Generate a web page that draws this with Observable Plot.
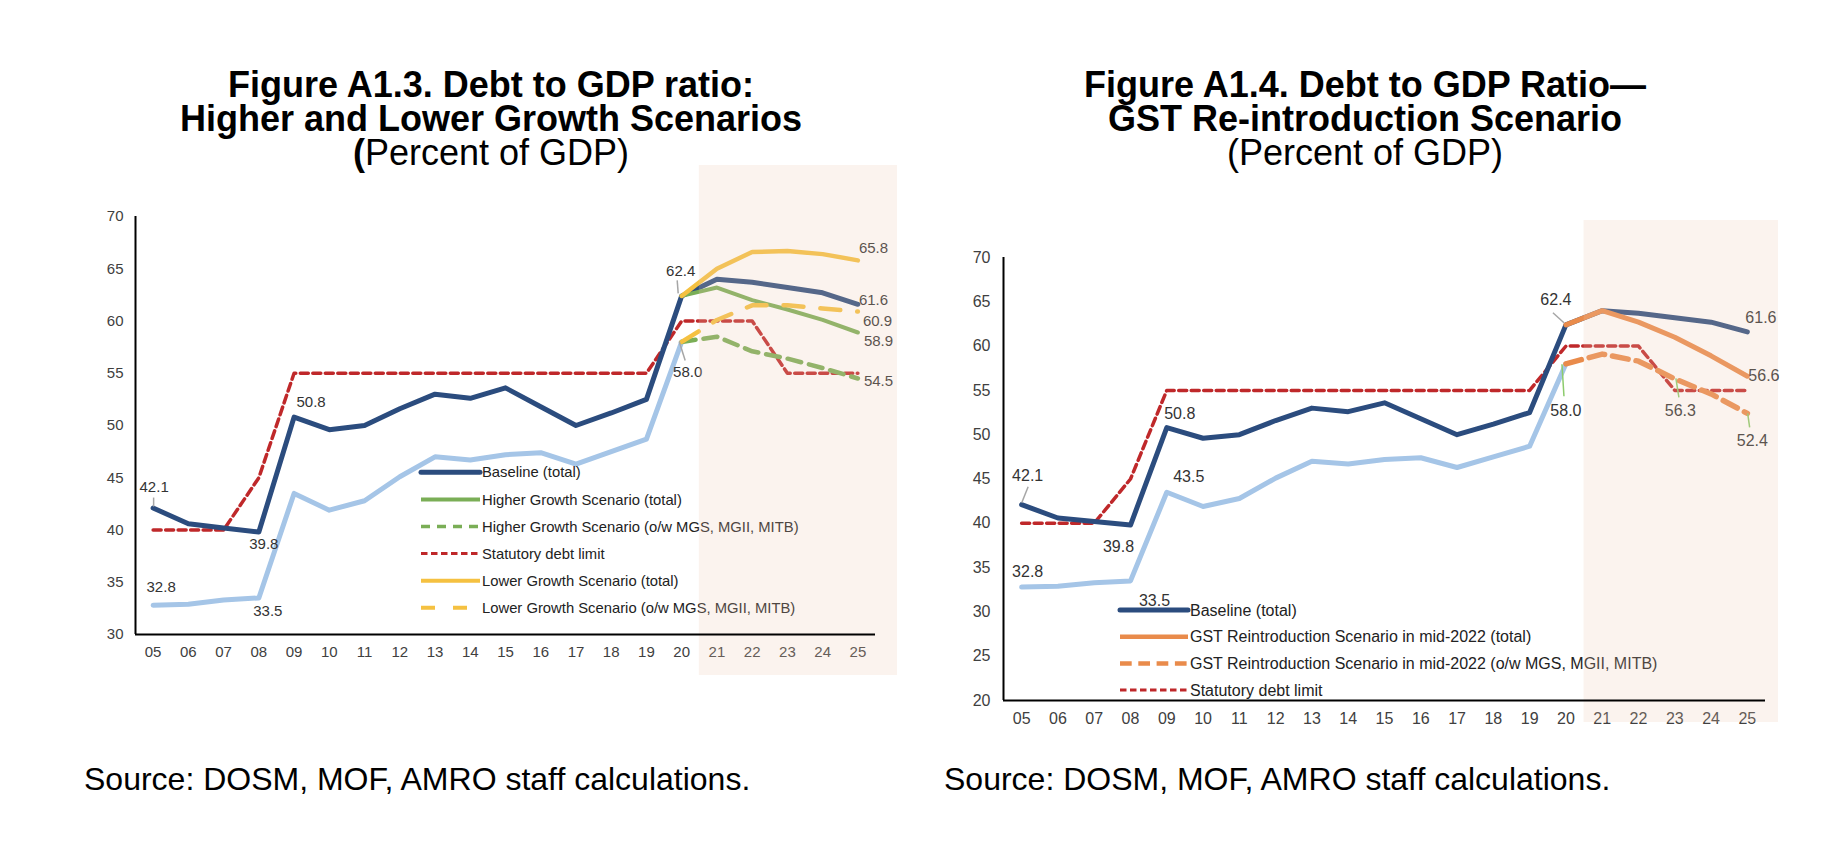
<!DOCTYPE html>
<html>
<head>
<meta charset="utf-8">
<script src="https://cdn.jsdelivr.net/npm/d3@7"></script>
<script src="https://cdn.jsdelivr.net/npm/@observablehq/plot@0.6"></script>
<style>
  body { margin: 0; background: #fff; }
  #page { position: relative; width: 1842px; height: 852px; overflow: hidden;
          font-family: "Liberation Sans", Arial, sans-serif; color: #000; }
  .title { position: absolute; width: 900px; text-align: center; font-size: 36px; line-height: 34px; }
  .title b { font-weight: bold; }
  .source { position: absolute; font-size: 32px; line-height: 36px; white-space: nowrap; }
  .chart { position: absolute; }
</style>
</head>
<body>
<div id="page">
  <div class="title" style="left:41px; top:68px;"><b>Figure A1.3. Debt to GDP ratio:<br>Higher and Lower Growth Scenarios<br>(</b>Percent of GDP)</div>
  <div class="title" style="left:915px; top:68px;"><b>Figure A1.4. Debt to GDP Ratio—<br>GST Re-introduction Scenario</b><br>(Percent of GDP)</div>
  <div id="left" class="chart" style="left:60px; top:150px;"></div>
  <div id="right" class="chart" style="left:940px; top:200px;"></div>
  <div class="source" style="left:84px; top:761px;">Source: DOSM, MOF, AMRO staff calculations.</div>
  <div class="source" style="left:944px; top:761px;">Source: DOSM, MOF, AMRO staff calculations.</div>
</div>
<script>
// ---- Data (percent of GDP) ----
const years = [2005, 2006, 2007, 2008, 2009, 2010, 2011, 2012, 2013, 2014, 2015,
               2016, 2017, 2018, 2019, 2020, 2021, 2022, 2023, 2024, 2025];
const yearLabels = ["05", "06", "07", "08", "09", "10", "11", "12", "13", "14", "15",
                    "16", "17", "18", "19", "20", "21", "22", "23", "24", "25"];
const projectionYears = [2021, 2022, 2023, 2024, 2025];

// Baseline total debt, 2005–2025
const baselineTotal = [42.1, 40.6, 40.2, 39.8, 50.8, 49.6, 50.0, 51.6, 53.0, 52.6, 53.6,
                       51.8, 50.0, 51.2, 52.5, 62.4, 64.0, 63.7, 63.2, 62.7, 61.6];
// Of which MGS, MGII, MITB (historical), 2005–2020
const owYears = [2005, 2006, 2007, 2008, 2009, 2010, 2011, 2012,
                 2013, 2014, 2015, 2016, 2017, 2018, 2019, 2020];
const baselineOw = [32.8, 32.9, 33.3, 33.5, 43.5, 41.9, 42.8, 45.1,
                    47.0, 46.7, 47.2, 47.4, 46.3, 47.5, 48.7, 58.0];
// Statutory debt limit
const debtLimit = [40, 40, 40, 45, 55, 55, 55, 55, 55, 55, 55,
                   55, 55, 55, 55, 60, 60, 60, 55, 55, 55];

// Scenarios, 2020–2025
const scenarioYears = [2020, 2021, 2022, 2023, 2024, 2025];
const higherTotal = [62.4, 63.2, 62.0, 61.1, 60.1, 58.9];
const higherOw    = [58.0, 58.5, 57.1, 56.4, 55.5, 54.5];
const lowerTotal  = [62.4, 65.0, 66.6, 66.7, 66.4, 65.8];
const lowerOw     = [58.0, 60.1, 61.5, 61.5, 61.2, 60.9];
const gstTotal    = [62.4, 64.0, 62.7, 61.0, 58.9, 56.6];
const gstOw       = [58.0, 59.1, 58.3, 56.3, 54.6, 52.4];

const leftTicks = [30, 35, 40, 45, 50, 55, 60, 65, 70];
const rightTicks = [20, 25, 30, 35, 40, 45, 50, 55, 60, 65, 70];

// ---- Styling ----
const C = {
  navy: "#2B4C7E", lightBlue: "#A5C5E7", green: "#7AAE56", red: "#BF282A",
  yellow: "#F5C141", orange: "#E98B4B", text: "#333333", tick: "#404040",
  leaderGray: "#A6A6A6", leaderGreen: "#8CCB6C",
  shade: "rgb(235,200,178)"
};

const yearFormat = d => yearLabels[years.indexOf(d)];
const valueAt = (xs, ys, x) => ys[xs.indexOf(x)];

function line(xs, ys, opts) {
  return Plot.line(ys, {x: xs, y: ys, strokeLinejoin: "round", ...opts});
}

function valueLabels(specs, fontSize) {
  return specs.map(s => {
    const v = valueAt(s.xs, s.ys, s.x);
    return Plot.text([{x: s.x, v}], {
      x: "x", y: "v", text: d => d.v.toFixed(1),
      dx: s.dx, dy: s.dy, textAnchor: s.anchor || "middle",
      fill: C.text, fontSize
    });
  });
}

// Short leader strokes from a point to its label (offsets in pixels)
function leaders(specs) {
  return (index, scales) => {
    const g = d3.create("svg:g");
    for (const s of specs) {
      const px = scales.x(s.x), py = scales.y(valueAt(s.xs, s.ys, s.x));
      g.append("line")
        .attr("x1", px + s.from[0]).attr("y1", py + s.from[1])
        .attr("x2", px + s.to[0]).attr("y2", py + s.to[1])
        .attr("stroke", s.color).attr("stroke-width", 1.5);
    }
    return g.node();
  };
}

function legend(items, {x, y, step, sampleW, gap, fontSize}) {
  return () => {
    const g = d3.create("svg:g").attr("text-anchor", "start");
    items.forEach((it, i) => {
      const yy = y + i * step;
      g.append("line")
        .attr("x1", x).attr("x2", x + sampleW).attr("y1", yy).attr("y2", yy)
        .attr("stroke", it.color).attr("stroke-width", it.width)
        .attr("stroke-dasharray", it.dash || null)
        .attr("stroke-linecap", it.cap || "butt");
      g.append("text")
        .attr("x", x + sampleW + gap).attr("y", yy).attr("dy", "0.35em")
        .attr("text-anchor", "start")
        .attr("font-size", fontSize).attr("fill", "#222").text(it.label);
    });
    return g.node();
  };
}

// Translucent band over the projection years, drawn above the lines
function projectionShade({over}) {
  return (index, scales, values, dims) => {
    const x1 = scales.x(projectionYears[0] - 0.5);
    const x2 = scales.x(projectionYears[projectionYears.length - 1] + 0.5) + over.right;
    const y1 = dims.marginTop - over.top;
    const y2 = dims.height - dims.marginBottom + over.bottom;
    return d3.create("svg:rect")
      .attr("x", x1).attr("y", y1).attr("width", x2 - x1).attr("height", y2 - y1)
      .attr("fill", C.shade).attr("fill-opacity", 0.22).node();
  };
}

const xDomain = [years[0] - 0.5, years[years.length - 1] + 0.5];

// ---- Figure A1.3 ----
const leftChart = Plot.plot({
  width: 860, height: 560,
  marginLeft: 75, marginRight: 45, marginTop: 66, marginBottom: 76,
  x: {domain: xDomain},
  y: {domain: [30, 70]},
  style: {fontFamily: "'Liberation Sans', Arial, sans-serif", background: "transparent", overflow: "visible"},
  marks: [
    Plot.axisY({ticks: leftTicks, tickSize: 0, tickPadding: 12, fontSize: 15, fill: C.tick, label: null}),
    Plot.axisX({ticks: years, tickFormat: yearFormat, tickSize: 0, tickPadding: 12, fontSize: 15, fill: C.tick, label: null}),
    line(owYears, baselineOw, {stroke: C.lightBlue, strokeWidth: 5}),
    line(years, debtLimit, {stroke: C.red, strokeWidth: 3.5, strokeDasharray: "8,4.5"}),
    line(years, baselineTotal, {stroke: C.navy, strokeWidth: 5}),
    line(scenarioYears, higherOw, {stroke: C.green, strokeWidth: 4.5, strokeDasharray: "14,8"}),
    line(scenarioYears, higherTotal, {stroke: C.green, strokeWidth: 4}),
    line(scenarioYears, lowerOw, {stroke: C.yellow, strokeWidth: 4.5, strokeDasharray: "20,17", strokeLinecap: "round"}),
    line(scenarioYears, lowerTotal, {stroke: C.yellow, strokeWidth: 4.5}),
    ...valueLabels([
      {xs: years, ys: baselineTotal, x: 2005, dx: 1, dy: -21},
      {xs: years, ys: baselineTotal, x: 2008, dx: 5, dy: 12},
      {xs: owYears, ys: baselineOw, x: 2005, dx: 8, dy: -18},
      {xs: owYears, ys: baselineOw, x: 2008, dx: 9, dy: 13},
      {xs: years, ys: baselineTotal, x: 2009, dx: 17, dy: -15},
      {xs: years, ys: baselineTotal, x: 2020, dx: -1, dy: -25},
      {xs: owYears, ys: baselineOw, x: 2020, dx: 6, dy: 30},
      {xs: scenarioYears, ys: lowerTotal, x: 2025, dx: 1, dy: -12, anchor: "start"},
      {xs: years, ys: baselineTotal, x: 2025, dx: 1, dy: -4.5, anchor: "start"},
      {xs: scenarioYears, ys: lowerOw, x: 2025, dx: 5, dy: 9.6, anchor: "start"},
      {xs: scenarioYears, ys: higherTotal, x: 2025, dx: 6, dy: 9, anchor: "start"},
      {xs: scenarioYears, ys: higherOw, x: 2025, dx: 6, dy: 3, anchor: "start"}
    ], 15),
    leaders([
      {xs: years, ys: baselineTotal, x: 2005, from: [1, -1], to: [1, -10], color: C.leaderGray},
      {xs: years, ys: baselineTotal, x: 2020, from: [-4, -15], to: [-3, -2], color: C.leaderGray},
      {xs: owYears, ys: baselineOw, x: 2020, from: [-2, 0], to: [4, 19], color: C.leaderGray}
    ]),
    legend([
      {label: "Baseline (total)", color: C.navy, width: 5, cap: "round"},
      {label: "Higher Growth Scenario (total)", color: C.green, width: 4},
      {label: "Higher Growth Scenario (o/w MGS, MGII, MITB)", color: C.green, width: 3.5, dash: "9,7"},
      {label: "Statutory debt limit", color: C.red, width: 3, dash: "6.5,3.5"},
      {label: "Lower Growth Scenario (total)", color: C.yellow, width: 4},
      {label: "Lower Growth Scenario (o/w MGS, MGII, MITB)", color: C.yellow, width: 4, dash: "14,18"}
    ], {x: 361, y: 322.3, step: 27.1, sampleW: 59, gap: 2, fontSize: 14.8}),
    projectionShade({over: {right: 22, top: 51, bottom: 41}}),
    Plot.ruleX([xDomain[0]], {stroke: "#000", strokeWidth: 2}),
    Plot.ruleY([30], {stroke: "#000", strokeWidth: 2})
  ]
});
document.getElementById("left").append(leftChart);

// ---- Figure A1.4 ----
const rightChart = Plot.plot({
  width: 860, height: 560,
  marginLeft: 63, marginRight: 35, marginTop: 57, marginBottom: 60,
  x: {domain: xDomain},
  y: {domain: [20, 70]},
  style: {fontFamily: "'Liberation Sans', Arial, sans-serif", background: "transparent", overflow: "visible"},
  marks: [
    Plot.axisY({ticks: rightTicks, tickSize: 0, tickPadding: 13, fontSize: 16, fill: C.tick, label: null}),
    Plot.axisX({ticks: years, tickFormat: yearFormat, tickSize: 0, tickPadding: 12, fontSize: 16, fill: C.tick, label: null}),
    line(owYears, baselineOw, {stroke: C.lightBlue, strokeWidth: 5}),
    line(years, debtLimit, {stroke: C.red, strokeWidth: 3.5, strokeDasharray: "8,4.5"}),
    line(years, baselineTotal, {stroke: C.navy, strokeWidth: 5}),
    line(scenarioYears, gstOw, {stroke: C.orange, strokeWidth: 5.5, strokeDasharray: "16,8"}),
    line(scenarioYears, gstTotal, {stroke: C.orange, strokeWidth: 5}),
    ...valueLabels([
      {xs: years, ys: baselineTotal, x: 2005, dx: 6, dy: -29},
      {xs: years, ys: baselineTotal, x: 2009, dx: 13, dy: -14},
      {xs: owYears, ys: baselineOw, x: 2009, dx: 22, dy: -15},
      {xs: years, ys: baselineTotal, x: 2008, dx: -12, dy: 22},
      {xs: owYears, ys: baselineOw, x: 2005, dx: 6, dy: -15},
      {xs: owYears, ys: baselineOw, x: 2008, dx: 24, dy: 20},
      {xs: years, ys: baselineTotal, x: 2020, dx: -10, dy: -25},
      {xs: owYears, ys: baselineOw, x: 2020, dx: 0, dy: 47},
      {xs: scenarioYears, ys: gstOw, x: 2023, dx: 5.6, dy: 32},
      {xs: scenarioYears, ys: gstOw, x: 2025, dx: 5, dy: 27},
      {xs: years, ys: baselineTotal, x: 2025, dx: -2, dy: -14, anchor: "start"},
      {xs: scenarioYears, ys: gstTotal, x: 2025, dx: 1, dy: 0, anchor: "start"}
    ], 16),
    leaders([
      {xs: years, ys: baselineTotal, x: 2005, from: [7, -17.5], to: [0.6, -1.5], color: C.leaderGray},
      {xs: years, ys: baselineTotal, x: 2020, from: [-12.5, -11.6], to: [-1.5, -1.6], color: C.leaderGray},
      {xs: owYears, ys: baselineOw, x: 2020, from: [-3.5, 1], to: [-1.5, 33], color: C.leaderGreen},
      {xs: scenarioYears, ys: gstOw, x: 2023, from: [1.6, 0], to: [4.6, 19], color: C.leaderGreen},
      {xs: scenarioYears, ys: gstOw, x: 2025, from: [0.8, 0.4], to: [2.8, 14.4], color: C.leaderGreen}
    ]),
    legend([
      {label: "Baseline (total)", color: C.navy, width: 5, cap: "round"},
      {label: "GST Reintroduction Scenario in mid-2022 (total)", color: C.orange, width: 4.5},
      {label: "GST Reintroduction Scenario in mid-2022 (o/w MGS, MGII, MITB)", color: C.orange, width: 4.5, dash: "11.7,6.6"},
      {label: "Statutory debt limit", color: C.red, width: 3, dash: "6.5,3.5"}
    ], {x: 180, y: 410, step: 26.7, sampleW: 68, gap: 2, fontSize: 16}),
    projectionShade({over: {right: 13, top: 37, bottom: 22}}),
    Plot.ruleX([xDomain[0]], {stroke: "#000", strokeWidth: 2}),
    Plot.ruleY([20], {stroke: "#000", strokeWidth: 2})
  ]
});
document.getElementById("right").append(rightChart);
</script>
</body>
</html>
